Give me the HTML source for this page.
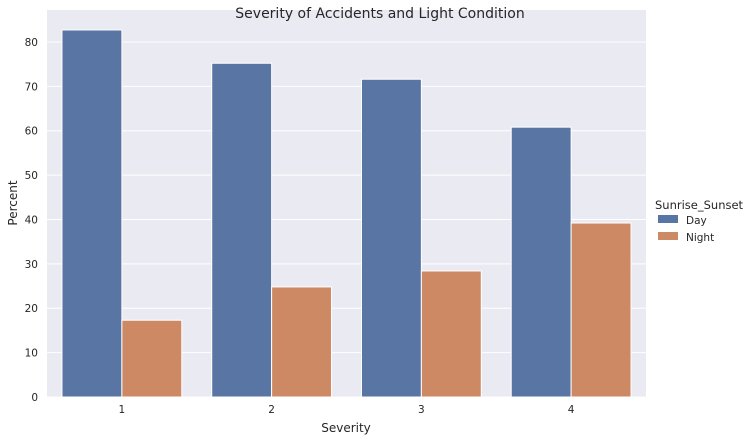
<!DOCTYPE html>
<html><head><meta charset="utf-8">
<style>
body{margin:0;background:#fff;font-family:"Liberation Sans","DejaVu Sans",sans-serif;}
svg text{font-family:"DejaVu Sans","Liberation Sans",sans-serif;fill:#262626;}
</style></head>
<body>
<svg id="chart" width="756" height="441">
  <rect x="47" y="10" width="599" height="387" fill="#eaeaf2"/>
  <g id="grid"></g>
  <g id="bars"></g>
  <g id="ticks"></g>
  <text x="380" y="18" text-anchor="middle" font-size="14">Severity of Accidents and Light Condition</text>
  <text x="346" y="432" text-anchor="middle" font-size="12">Severity</text>
  <text x="17" y="203" text-anchor="middle" font-size="12" transform="rotate(-90 17 203)">Percent</text>
  <g>
    <text x="655" y="209" font-size="11.5">Sunrise_Sunset</text>
    <rect x="658" y="215" width="20" height="8" fill="#5875a4"/>
    <text x="686" y="224" font-size="10.5">Day</text>
    <rect x="658" y="232" width="20" height="8" fill="#cc8963"/>
    <text x="686" y="241" font-size="10.5">Night</text>
  </g>
</svg>
<script>
const categories = ["1","2","3","4"];
const dayValues = [82.7, 75.2, 71.6, 60.8];
const nightValues = [17.3, 24.8, 28.4, 39.2];
const yTicks = [0,10,20,30,40,50,60,70,80];

const NS="http://www.w3.org/2000/svg";
const plotLeft=47,plotRight=646,plotBottom=397,plotTop=10,yMax=87.2;
const step=(plotRight-plotLeft)/categories.length;
function y(v){return plotBottom-(plotBottom-plotTop)*v/yMax;}
function xc(i){return plotLeft+step*(i+0.5);}
const bw=step*0.4;
const grid=document.getElementById('grid'),bars=document.getElementById('bars'),ticks=document.getElementById('ticks');
yTicks.forEach(t=>{
  const l=document.createElementNS(NS,'line');
  l.setAttribute('x1',plotLeft);l.setAttribute('x2',plotRight);l.setAttribute('y1',y(t));l.setAttribute('y2',y(t));
  l.setAttribute('stroke','#fff');l.setAttribute('stroke-width','1');
  
  
  grid.appendChild(l);
  const tx=document.createElementNS(NS,'text');
  tx.setAttribute('x',plotLeft-9);tx.setAttribute('y',y(t)+4);tx.setAttribute('text-anchor','end');tx.setAttribute('font-size','10.5');
  tx.textContent=t;
  
  
  ticks.appendChild(tx);
});
categories.forEach((c,i)=>{
  [[dayValues[i],'#5875a4',-1,'day'],[nightValues[i],'#cc8963',0,'night']].forEach(([v,col,off,nm])=>{
    const r=document.createElementNS(NS,'rect');
    r.setAttribute('x',xc(i)+off*bw);r.setAttribute('width',bw);
    r.setAttribute('y',y(v));r.setAttribute('height',plotBottom-y(v));
    r.setAttribute('fill',col);r.setAttribute('stroke','#fff');r.setAttribute('stroke-width','1');
    
    
    bars.appendChild(r);
  });
  const tx=document.createElementNS(NS,'text');
  tx.setAttribute('x',xc(i));tx.setAttribute('y',plotBottom+16);tx.setAttribute('text-anchor','middle');tx.setAttribute('font-size','10.5');
  tx.textContent=c;
  
  
  ticks.appendChild(tx);
});
</script>
</body></html>
